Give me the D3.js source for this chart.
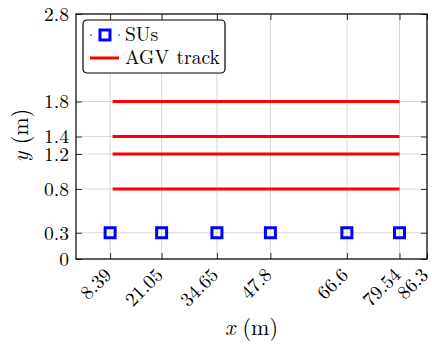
<!DOCTYPE html>
<html>
<head>
<meta charset="utf-8">
<script src="https://cdn.jsdelivr.net/npm/d3@7"></script>
<style>
  body { margin: 0; background: #fff; }
</style>
</head>
<body>
<svg id="chart"></svg>
<script>
// data
var suX = [8.39, 21.05, 34.65, 47.8, 66.6, 79.54];
var suY = 0.3;
var trackY = [0.8, 1.2, 1.4, 1.8];
var trackStart = 9, trackEnd = 79.54;
var xTicks = [8.39, 21.05, 34.65, 47.8, 66.6, 79.54, 86.3];
var yTicks = [0, 0.3, 0.8, 1.2, 1.4, 1.8, 2.8];

var FONT = "Latin Modern Roman";

var margin = {top: 14, right: 5, bottom: 85, left: 76},
    width = 432 - margin.left - margin.right,
    height = 344 - margin.top - margin.bottom;

var svg = d3.select("#chart")
    .attr("width", 432)
    .attr("height", 344)
  .append("g")
    .attr("transform", "translate(" + margin.left + "," + margin.top + ")");

var x = d3.scaleLinear().domain([0, 86.3]).range([0, width]);
var y = d3.scaleLinear().domain([0, 2.8]).range([height, 0]);

// grid
svg.append("g").selectAll("line")
    .data(xTicks)
  .enter().append("line")
    .attr("x1", function(d) { return x(d); }).attr("x2", function(d) { return x(d); })
    .attr("y1", 0).attr("y2", height)
    .attr("stroke", "#d8d8d8");

svg.append("g").selectAll("line")
    .data(yTicks)
  .enter().append("line")
    .attr("y1", function(d) { return y(d); }).attr("y2", function(d) { return y(d); })
    .attr("x1", 0).attr("x2", width)
    .attr("stroke", "#d8d8d8");

// axes (ticks inside, mirrored on top/right)
var xAxis = d3.axisBottom(x).tickValues(xTicks).tickSizeInner(-6).tickSizeOuter(0).tickFormat(d3.format(""));
var yAxis = d3.axisLeft(y).tickValues(yTicks).tickSizeInner(-6).tickSizeOuter(0).tickFormat(d3.format(""));

var gx = svg.append("g")
    .attr("transform", "translate(0," + height + ")")
    .call(xAxis)
    .attr("font-family", FONT);
gx.select(".domain").remove();
gx.selectAll(".tick line").attr("stroke", "#333");
gx.selectAll(".tick text")
    .attr("font-family", FONT)
    .attr("font-size", 19.5)
    .attr("fill", "#000")
    .attr("text-anchor", "end")
    .attr("dy", null)
    .attr("y", 0)
    .attr("transform", "translate(2,17) rotate(-45)");

var gy = svg.append("g").call(yAxis).attr("font-family", FONT);
gy.select(".domain").remove();
gy.selectAll(".tick line").attr("stroke", "#333");
gy.selectAll(".tick text")
    .attr("font-family", FONT)
    .attr("font-size", 19.5)
    .attr("fill", "#000")
    .attr("x", -7);

svg.append("g").call(d3.axisTop(x).tickValues(xTicks).tickSizeInner(-6).tickSizeOuter(0).tickFormat(""))
  .call(function(g) { g.select(".domain").remove(); g.selectAll("line").attr("stroke", "#333"); });
svg.append("g").attr("transform", "translate(" + width + ",0)")
    .call(d3.axisRight(y).tickValues(yTicks).tickSizeInner(-6).tickSizeOuter(0).tickFormat(""))
  .call(function(g) { g.select(".domain").remove(); g.selectAll("line").attr("stroke", "#333"); });

svg.append("rect")
    .attr("width", width).attr("height", height)
    .attr("fill", "none").attr("stroke", "#000").attr("stroke-width", 1.2);

// AGV tracks
svg.append("g").selectAll("line")
    .data(trackY)
  .enter().append("line")
    .attr("x1", x(trackStart)).attr("x2", x(trackEnd))
    .attr("y1", function(d) { return y(d); }).attr("y2", function(d) { return y(d); })
    .attr("stroke", "#ff0000").attr("stroke-width", 3);

// SUs
svg.append("g").selectAll("rect")
    .data(suX)
  .enter().append("rect")
    .attr("x", function(d) { return x(d) - 5; })
    .attr("y", y(suY) - 5)
    .attr("width", 10).attr("height", 10)
    .attr("fill", "none").attr("stroke", "#0000ff").attr("stroke-width", 3);

// axis labels
svg.append("text")
    .attr("font-family", FONT)
    .attr("x", width / 2).attr("y", height + 76)
    .attr("text-anchor", "middle").attr("font-size", 22)
    .html('<tspan font-style="italic">x</tspan> (m)');

svg.append("text")
    .attr("font-family", FONT)
    .attr("transform", "translate(-48," + (height / 2 - 1) + ") rotate(-90)")
    .attr("text-anchor", "middle").attr("font-size", 22)
    .html('<tspan font-style="italic">y</tspan> (m)');

// legend
var legend = svg.append("g").attr("transform", "translate(7,6)");
legend.append("rect")
    .attr("width", 142).attr("height", 53).attr("rx", 4)
    .attr("fill", "#fff").attr("stroke", "#000").attr("stroke-width", 1.2);
legend.append("circle").attr("cx", 8).attr("cy", 15).attr("r", 0.8).attr("fill", "#0000ff");
legend.append("circle").attr("cx", 36).attr("cy", 15).attr("r", 0.8).attr("fill", "#0000ff");
legend.append("rect")
    .attr("x", 17).attr("y", 10).attr("width", 10).attr("height", 10)
    .attr("fill", "none").attr("stroke", "#0000ff").attr("stroke-width", 3);
legend.append("text").attr("font-family", FONT).attr("x", 42).attr("y", 21).attr("font-size", 19.5).text("SUs");
legend.append("line")
    .attr("x1", 7).attr("x2", 36).attr("y1", 38).attr("y2", 38)
    .attr("stroke", "#ff0000").attr("stroke-width", 3);
legend.append("text").attr("font-family", FONT).attr("x", 42).attr("y", 44).attr("font-size", 19.5).attr("word-spacing", 1).text("AGV track");
</script>
</body>
</html>
